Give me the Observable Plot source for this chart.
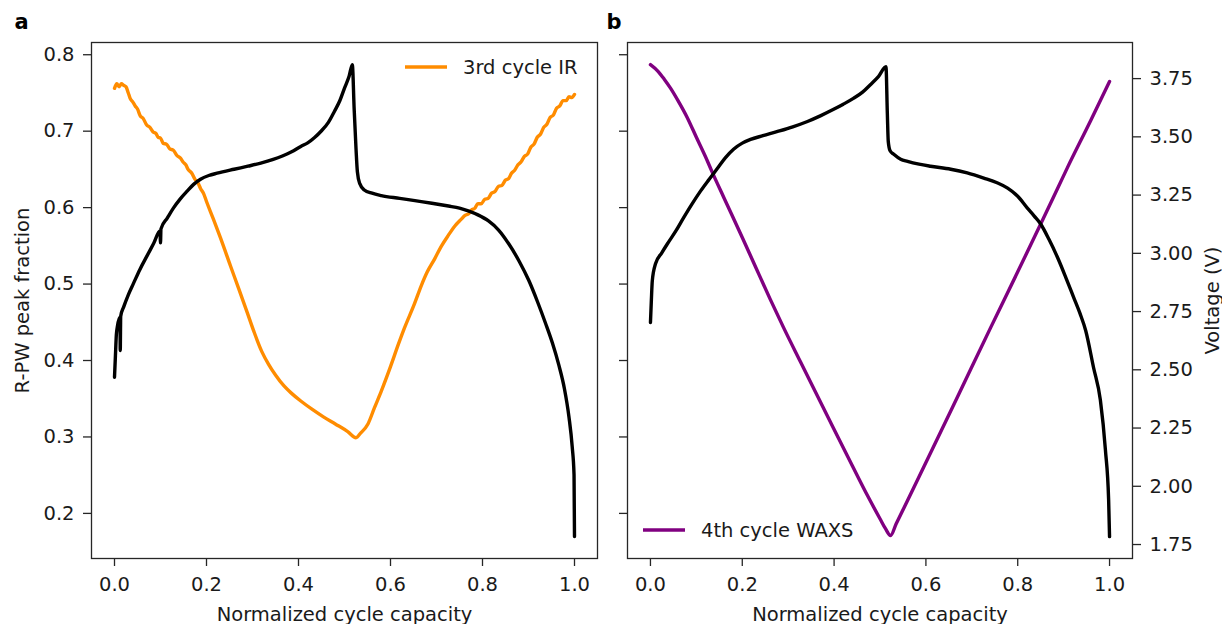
<!DOCTYPE html>
<html><head><meta charset="utf-8">
<script src="https://cdn.jsdelivr.net/npm/d3@7"></script>
<script src="https://cdn.jsdelivr.net/npm/@observablehq/plot@0.6"></script>
<style>
body{margin:0;background:#fff;}
#wrap{position:relative;width:1222px;height:624px;overflow:hidden;font-family:"DejaVu Sans",sans-serif;}
#wrap svg{position:absolute;top:0;}
</style></head><body><div id="wrap"></div>
<script>
// ---------- data ----------
const xTicks = [0, 0.2, 0.4, 0.6, 0.8, 1.0];
const fracTicks = [0.2, 0.3, 0.4, 0.5, 0.6, 0.7, 0.8];
const voltTicks = [1.75, 2.0, 2.25, 2.5, 2.75, 3.0, 3.25, 3.5, 3.75];
const fracDomain = [0.141, 0.816];
const voltDomain = [1.69, 3.905];

// panel a: 3rd cycle IR (R-PW peak fraction)
const irX = [0.000,0.005,0.010,0.015,0.020,0.025,0.030,0.034,0.040,0.045,0.050,0.056,0.062,0.070,0.077,0.084,0.090,0.095,0.100,0.106,0.113,0.120,0.128,0.136,0.143,0.150,0.155,0.160,0.168,0.175,0.181,0.187,0.194,0.200,0.215,0.230,0.252,0.270,0.289,0.303,0.320,0.335,0.350,0.368,0.385,0.405,0.430,0.455,0.480,0.507,0.525,0.535,0.551,0.565,0.580,0.600,0.617,0.630,0.652,0.667,0.680,0.696,0.710,0.726,0.740,0.754,0.762,0.770,0.776,0.783,0.790,0.797,0.805,0.812,0.820,0.827,0.835,0.842,0.850,0.857,0.863,0.870,0.877,0.884,0.891,0.898,0.905,0.912,0.919,0.926,0.933,0.940,0.947,0.954,0.961,0.968,0.975,0.982,0.988,0.994,1.000];
const irFrac = [0.756,0.762,0.758,0.762,0.760,0.758,0.750,0.743,0.738,0.733,0.729,0.720,0.717,0.708,0.705,0.699,0.697,0.692,0.691,0.684,0.683,0.677,0.675,0.668,0.665,0.659,0.656,0.650,0.645,0.637,0.633,0.625,0.618,0.608,0.585,0.561,0.524,0.494,0.462,0.438,0.412,0.395,0.381,0.367,0.357,0.347,0.336,0.326,0.317,0.307,0.299,0.305,0.317,0.338,0.360,0.392,0.421,0.442,0.474,0.498,0.516,0.533,0.549,0.564,0.576,0.585,0.590,0.592,0.597,0.599,0.605,0.605,0.611,0.612,0.619,0.621,0.628,0.629,0.636,0.638,0.645,0.649,0.656,0.660,0.667,0.670,0.679,0.683,0.692,0.696,0.705,0.709,0.718,0.721,0.730,0.733,0.740,0.740,0.745,0.744,0.748];

// panel a: voltage (V)
const voltAX = [0.000,0.002,0.004,0.006,0.012,0.0125,0.0135,0.020,0.030,0.041,0.055,0.071,0.085,0.099,0.100,0.101,0.115,0.128,0.143,0.158,0.172,0.187,0.205,0.223,0.260,0.290,0.318,0.345,0.365,0.385,0.405,0.420,0.435,0.449,0.465,0.478,0.490,0.500,0.510,0.517,0.521,0.525,0.528,0.533,0.543,0.560,0.580,0.620,0.653,0.690,0.726,0.750,0.769,0.790,0.813,0.835,0.857,0.880,0.901,0.920,0.937,0.952,0.966,0.978,0.988,0.995,0.999,1.000];
const voltAV = [2.468,2.560,2.650,2.683,2.726,2.583,2.730,2.770,2.822,2.870,2.930,2.990,3.042,3.096,3.045,3.105,3.152,3.194,3.234,3.267,3.296,3.318,3.334,3.344,3.361,3.374,3.387,3.403,3.418,3.436,3.459,3.474,3.497,3.524,3.562,3.609,3.656,3.709,3.760,3.810,3.620,3.450,3.350,3.300,3.272,3.258,3.248,3.236,3.226,3.215,3.203,3.194,3.182,3.165,3.139,3.100,3.041,2.965,2.882,2.790,2.700,2.615,2.520,2.420,2.297,2.170,2.050,1.784];

// panel b: 4th cycle WAXS (R-PW peak fraction)
const waxsX = [0.000,0.017,0.030,0.044,0.060,0.080,0.100,0.124,0.134,0.160,0.200,0.230,0.261,0.290,0.327,0.360,0.399,0.440,0.473,0.500,0.512,0.523,0.535,0.560,0.610,0.670,0.741,0.800,0.856,0.908,0.959,1.000];
const waxsFrac = [0.787,0.778,0.768,0.756,0.740,0.718,0.692,0.661,0.647,0.613,0.561,0.521,0.480,0.443,0.398,0.358,0.311,0.262,0.223,0.193,0.180,0.171,0.186,0.217,0.279,0.354,0.443,0.516,0.586,0.652,0.714,0.765];

// panel b: voltage (V)
const voltBX = [0.000,0.002,0.004,0.011,0.025,0.037,0.055,0.072,0.090,0.109,0.128,0.146,0.163,0.181,0.200,0.218,0.245,0.277,0.310,0.342,0.370,0.399,0.420,0.442,0.462,0.479,0.497,0.513,0.516,0.518,0.522,0.530,0.545,0.560,0.585,0.610,0.654,0.690,0.726,0.755,0.778,0.800,0.821,0.836,0.850,0.868,0.887,0.905,0.922,0.936,0.948,0.965,0.980,0.991,0.998,1.000];
const voltBV = [2.703,2.800,2.882,2.955,3.003,3.041,3.095,3.152,3.210,3.267,3.318,3.365,3.410,3.447,3.473,3.489,3.505,3.523,3.543,3.566,3.590,3.618,3.640,3.665,3.692,3.724,3.760,3.801,3.600,3.480,3.440,3.425,3.404,3.395,3.383,3.374,3.361,3.345,3.323,3.303,3.280,3.245,3.194,3.160,3.126,3.060,2.981,2.895,2.810,2.740,2.669,2.511,2.370,2.156,1.942,1.784];

// ---------- build ----------
const v2f = d3.scaleLinear().domain(voltDomain).range(fracDomain);
const zip = (xs, ys) => xs.map((x, i) => ({x, y: ys[i]}));
const ir = zip(irX, irFrac);
const waxs = zip(waxsX, waxsFrac);
const voltA = zip(voltAX, voltAV.map(v => v2f(v)));
const voltB = zip(voltBX, voltBV.map(v => v2f(v)));

const FS = 19.5;
const txt = "#1a1a1a";
const axisCol = "#262626";
const LW = 3.4;
const style = {fontFamily: "DejaVu Sans, sans-serif", fontSize: FS + "px", color: txt, background: "transparent", overflow: "visible"};

function xAxis() {
  return Plot.axisX({ticks: xTicks, tickFormat: d3.format(".1f"), tickSize: 8, tickPadding: 11, fontSize: FS, label: null, stroke: axisCol, strokeWidth: 1.3});
}

const wrap = document.getElementById("wrap");

const plotA = Plot.plot({
  width: 612, height: 624,
  marginLeft: 91, marginRight: 15, marginTop: 42, marginBottom: 66,
  style,
  x: {domain: [-0.05, 1.05]},
  y: {domain: fracDomain},
  marks: [
    xAxis(),
    Plot.axisY({ticks: fracTicks, tickFormat: d3.format(".1f"), tickSize: 8, tickPadding: 9, fontSize: FS, label: null, stroke: axisCol, strokeWidth: 1.3}),
    Plot.line(ir, {x: "x", y: "y", stroke: "#ff8c00", strokeWidth: LW, curve: "monotone-x"}),
    Plot.line(voltA, {x: "x", y: "y", stroke: "#000", strokeWidth: LW, curve: "monotone-x"}),
    Plot.frame({stroke: axisCol, strokeWidth: 1.3}),
    Plot.text(["a"], {frameAnchor: "top-left", dx: -77, dy: -14, lineAnchor: "bottom", textAnchor: "start", fontWeight: "bold", fontSize: 21, fill: "#000"}),
    Plot.text(["R-PW peak fraction"], {frameAnchor: "left", dx: -63, rotate: -90, lineAnchor: "bottom", textAnchor: "middle", fontSize: FS, fill: txt}),
    Plot.text(["Normalized cycle capacity"], {frameAnchor: "bottom", dy: 62, lineAnchor: "bottom", textAnchor: "middle", fontSize: FS, fill: txt})
  ]
});
plotA.style.left = "0px";
wrap.appendChild(plotA);

const plotB = Plot.plot({
  width: 632, height: 624,
  marginLeft: 37, marginRight: 90, marginTop: 42, marginBottom: 66,
  style,
  x: {domain: [-0.05, 1.05]},
  y: {domain: fracDomain},
  marks: [
    xAxis(),
    Plot.axisY({ticks: fracTicks, tickFormat: () => "", tickSize: 8, label: null, stroke: axisCol, strokeWidth: 1.3}),
    Plot.axisY(voltTicks.map(v => v2f(v)), {anchor: "right", tickFormat: f => d3.format(".2f")(v2f.invert(f)), tickSize: 8, tickPadding: 9, fontSize: FS, label: null, stroke: axisCol, strokeWidth: 1.3}),
    Plot.line(waxs, {x: "x", y: "y", stroke: "#800080", strokeWidth: LW, curve: "monotone-x"}),
    Plot.line(voltB, {x: "x", y: "y", stroke: "#000", strokeWidth: LW, curve: "monotone-x"}),
    Plot.frame({stroke: axisCol, strokeWidth: 1.3}),
    Plot.text(["b"], {frameAnchor: "top-left", dx: -21, dy: -14, lineAnchor: "bottom", textAnchor: "start", fontWeight: "bold", fontSize: 21, fill: "#000"}),
    Plot.text(["Normalized cycle capacity"], {frameAnchor: "bottom", dy: 62, lineAnchor: "bottom", textAnchor: "middle", fontSize: FS, fill: txt}),
    Plot.text(["Voltage (V)"], {frameAnchor: "right", dx: 86, rotate: -90, lineAnchor: "bottom", textAnchor: "middle", fontSize: FS, fill: txt})
  ]
});
plotB.style.left = "590px";
wrap.appendChild(plotB);

// legends (layout only)
function legend(svg, x0, y0, color, label) {
  const g = d3.select(svg).append("g");
  g.append("line").attr("x1", x0).attr("x2", x0 + 42).attr("y1", y0).attr("y2", y0)
    .attr("stroke", color).attr("stroke-width", LW);
  g.append("text").attr("x", x0 + 58).attr("y", y0).attr("dy", "0.35em")
    .attr("text-anchor", "start").attr("font-size", FS).attr("fill", txt).text(label);
}
legend(plotA, 405, 67, "#ff8c00", "3rd cycle IR");
legend(plotB, 643 - 590, 530, "#800080", "4th cycle WAXS");
</script>
</body></html>
